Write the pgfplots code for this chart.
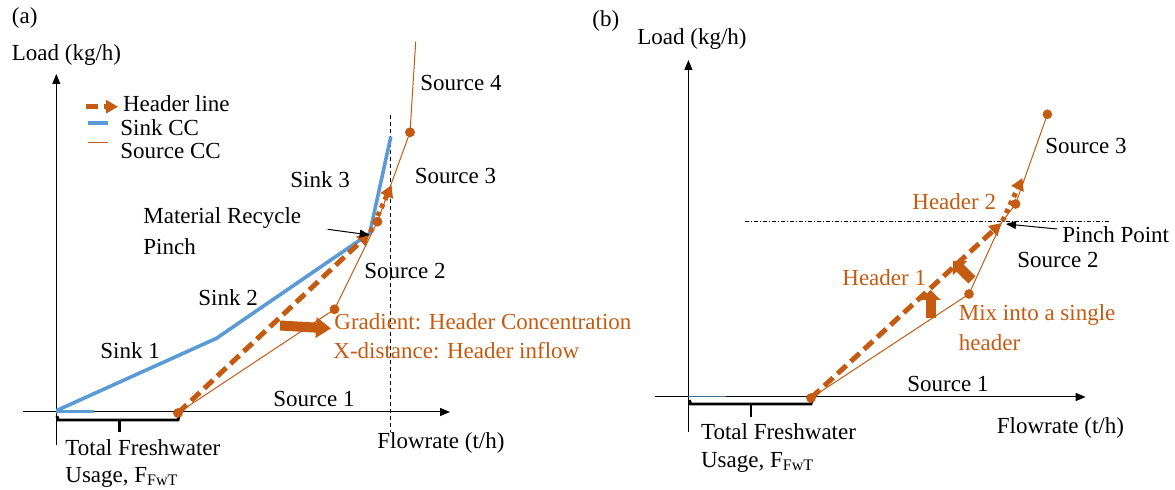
\documentclass[border=0pt]{standalone}
\usepackage{fontspec}
\setmainfont{Liberation Serif}
\usepackage{pgfplots}
\pgfplotsset{compat=1.18}
\usetikzlibrary{arrows.meta}
\definecolor{orng}{HTML}{C55A11}
\definecolor{blu}{HTML}{5B9BD5}
\begin{document}
\begin{tikzpicture}[
  lbl/.style={anchor=west,inner sep=0pt,font=\fontsize{11.5}{13}\selectfont},
  olbl/.style={lbl,text=orng}]
\begin{axis}[x=0.5pt,y=0.5pt,xmin=0,xmax=1175,ymin=0,ymax=490,y dir=reverse,
  hide axis,clip=false,scale only axis]
\addplot[draw=none] coordinates {(0,0)(1175,490)};
% ================= panel (a) =================
% axes
\addplot[black,line width=0.5pt,-{Triangle[length=5pt,width=4pt]}] coordinates {(56.3,445)(56.3,74)};
\addplot[black,line width=0.5pt,-{Triangle[length=5pt,width=4pt]}] coordinates {(23,412)(450,412)};
% vertical dashed
\addplot[black,line width=0.4pt,dash pattern=on 2pt off 1.5pt] coordinates {(390,115)(390,432)};
% sink CC
\addplot[blu,line width=1.1pt] coordinates {(56.3,411.5)(94,411.5)};
\addplot[blu,line width=1.8pt] coordinates {(56.3,410.7)(216.5,338.3)(369.7,233.3)(390.8,136.7)};
% source CC
\addplot[orng,line width=0.5pt,mark=*,mark size=2.2pt,mark options={solid}] coordinates {(178,413)(334.5,309.3)(377.4,221.7)(410,132.3)};
\addplot[orng,line width=0.5pt] coordinates {(410,132.3)(415.7,41.7)};
% header line
\addplot[orng,line width=2.5pt,dash pattern=on 6pt off 3pt,-{Triangle[length=6pt,width=6.5pt]}] coordinates {(178,413)(369.7,233.3)};
\addplot[orng,line width=2.5pt,dash pattern=on 2.2pt off 2.2pt,-{Triangle[length=6pt,width=6.5pt]}] coordinates {(370.5,232)(391.6,185)};
% pinch annotation arrow
\addplot[black,line width=0.5pt,-{Triangle[length=5pt,width=4pt]}] coordinates {(327.6,229.3)(369.7,235)};
% block arrow
\addplot[orng,line width=5pt,-{Triangle[length=7.5pt,width=10pt]}] coordinates {(280,325.5)(331,328.5)};
% brace
\addplot[black,line width=1.4pt] coordinates {(57,416)(58,420)(178,420)(179,416)};
\addplot[black,line width=1.4pt] coordinates {(119.5,420)(119.5,431.7)};
% legend
\addplot[orng,line width=2.5pt,dash pattern=on 6pt off 3pt,-{Triangle[length=6pt,width=6.5pt]}] coordinates {(86,106.7)(118,106.7)};
\addplot[blu,line width=1.8pt] coordinates {(88,123.3)(108.4,123.3)};
\addplot[orng,line width=0.5pt] coordinates {(88,142.7)(108.4,142.7)};
% texts (a)
\node[lbl] at (11.5,18) {(a)};
\node[lbl] at (11.5,55) {Load (kg/h)};
\node[lbl] at (122.6,104) {Header line};
\node[lbl] at (120,128) {Sink CC};
\node[lbl] at (120,151) {Source CC};
\node[lbl] at (290,180) {Sink 3};
\node[lbl] at (143,218) {Material Recycle};
\node[lbl] at (143,247) {Pinch};
\node[lbl] at (420,83) {Source 4};
\node[lbl] at (414.5,176) {Source 3};
\node[lbl] at (364,271) {Source 2};
\node[lbl] at (198,298) {Sink 2};
\node[lbl] at (100,351) {Sink 1};
\node[olbl] at (334,322) {Gradient: Header Concentration};
\node[olbl] at (333,351) {X-distance: Header inflow};
\node[lbl] at (273,399) {Source 1};
\node[lbl] at (377,443) {Flowrate (t/h)};
\node[lbl] at (65,448) {Total Freshwater};
\node[lbl] at (65,477) {Usage, F\textsubscript{FwT}};
% ================= panel (b) =================
\addplot[black,line width=0.5pt,-{Triangle[length=5pt,width=4pt]}] coordinates {(688.4,432)(688.4,60)};
\addplot[black,line width=0.5pt,-{Triangle[length=5pt,width=4pt]}] coordinates {(654.7,397)(1085.7,397)};
% dash-dot
\addplot[black,line width=0.4pt,dash pattern=on 2pt off 1pt on 0.5pt off 1pt] coordinates {(744.7,221.7)(1108.7,221.7)};
% sink short
\addplot[blu!70!black,line width=0.7pt] coordinates {(688.4,396.5)(725.6,396.5)};
% source CC
\addplot[orng,line width=0.5pt] coordinates {(811,398)(969,294)(1001.5,222.7)(1015.6,204)(1047.4,114.3)};
\addplot[orng,only marks,mark=*,mark size=2.2pt] coordinates {(811,398)(969,294)(1015.6,204)(1047.4,114.3)};
% header
\addplot[orng,line width=2.5pt,dash pattern=on 6pt off 3pt,-{Triangle[length=6pt,width=6.5pt]}] coordinates {(811,398)(1001.5,223)};
\addplot[orng,line width=2.5pt,dash pattern=on 2.2pt off 2.2pt,-{Triangle[length=6pt,width=6.5pt]}] coordinates {(1002.5,221)(1022.5,178)};
% pinch point arrow
\addplot[black,line width=0.5pt,-{Triangle[length=5pt,width=4pt]}] coordinates {(1057,229)(1006,224)};
% block arrows
\addplot[orng,line width=5pt,-{Triangle[length=5pt,width=10pt]}] coordinates {(930.5,318)(930.5,290)};
\addplot[orng,line width=5pt,-{Triangle[length=5pt,width=10pt]}] coordinates {(972,280)(953,261)};
% brace
\addplot[black,line width=1.4pt] coordinates {(689.5,400)(690.5,404)(811,404)(812,400)};
\addplot[black,line width=1.4pt] coordinates {(751,404)(751,417)};
% texts (b)
\node[lbl] at (592,21) {(b)};
\node[lbl] at (637,39) {Load (kg/h)};
\node[lbl] at (1045,146) {Source 3};
\node[olbl] at (912,202) {Header 2};
\node[lbl] at (1062,235) {Pinch Point};
\node[lbl] at (1017,260) {Source 2};
\node[olbl] at (842,278) {Header 1};
\node[olbl] at (958.5,315) {Mix into a single};
\node[olbl] at (958.5,343) {header};
\node[lbl] at (907,384) {Source 1};
\node[lbl] at (996.5,428) {Flowrate (t/h)};
\node[lbl] at (700.7,432) {Total Freshwater};
\node[lbl] at (700.7,462) {Usage, F\textsubscript{FwT}};
\end{axis}
\end{tikzpicture}
\end{document}
